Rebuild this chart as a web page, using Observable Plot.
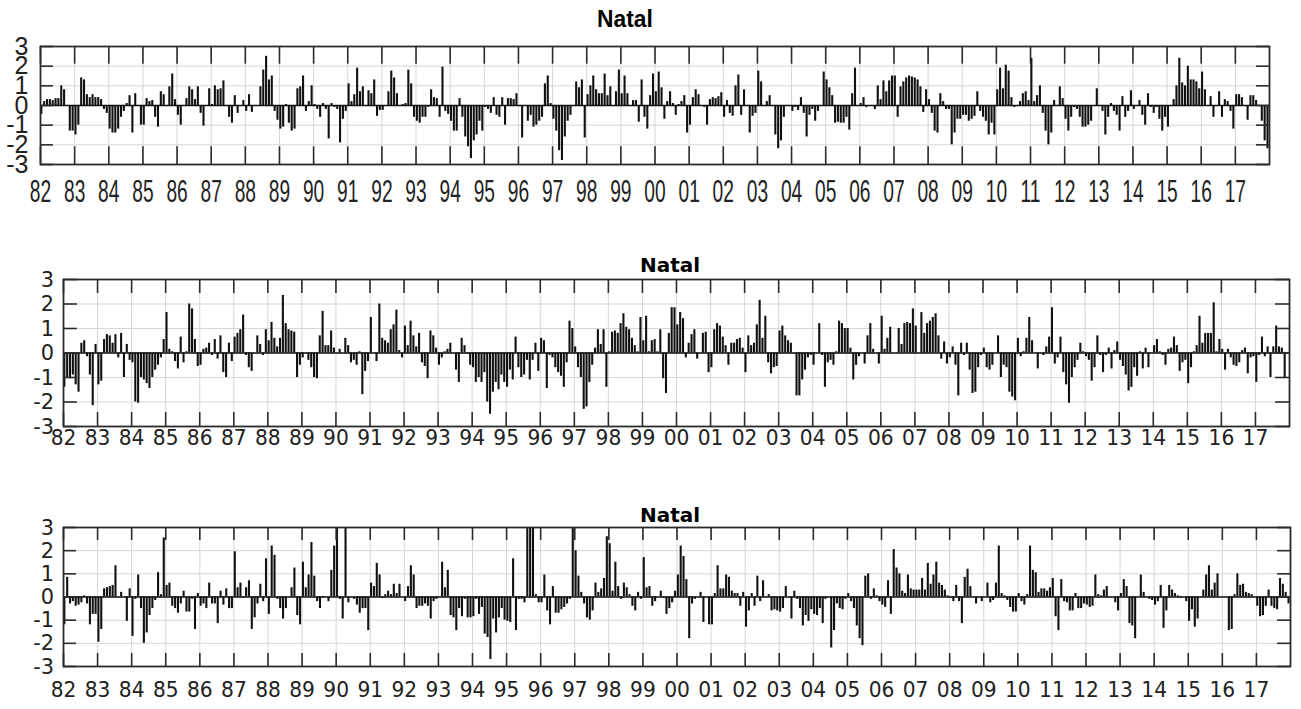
<!DOCTYPE html>
<html><head><meta charset="utf-8">
<script src="https://cdn.jsdelivr.net/npm/d3@7"></script>
<script src="https://cdn.jsdelivr.net/npm/@observablehq/plot@0.6"></script>
<style>
body{margin:0;background:#fff;}
#wrap{position:relative;width:1301px;height:709px;overflow:hidden;background:#fff;}
.panel{position:absolute;left:0;}
.title{position:absolute;font-weight:bold;color:#000;white-space:nowrap;transform:translateX(-50%);line-height:1;}
</style></head><body><div id="wrap"></div>
<script>
const years = d3.range(1982, 2018);
const yearLabels = years.map(y => String(y % 100).padStart(2, "0"));
const yTicks = [-3, -2, -1, 0, 1, 2, 3];
const titles = ["Natal", "Natal", "Natal"];

const natal1 = [
-0.45,0.2,0.3,0.3,0.25,0.35,0.35,1.0,0.8,0.0,-1.3,-1.3,
-1.5,-1.0,1.4,1.3,0.55,0.4,0.55,0.4,0.4,0.3,-0.2,-0.4,
-1.2,-1.4,-1.4,-1.2,-0.6,-0.3,0.1,0.5,-1.4,0.6,0.0,-1.0,
-1.0,0.35,0.2,0.25,-0.6,-1.1,0.7,0.55,0.0,0.95,1.6,0.3,
-0.5,-1.0,0.0,0.35,0.95,0.8,0.3,0.95,-0.4,-1.05,0.0,0.85,
0.05,1.0,0.8,0.85,1.25,0.0,-0.6,-0.9,0.5,-0.4,0.0,0.25,
-0.3,0.55,-0.35,0.0,0.0,0.95,1.8,2.5,1.3,1.5,-0.3,-0.75,
-1.2,-1.1,0.05,-0.9,-1.3,-1.2,0.85,0.95,1.5,-0.3,0.2,1.0,
0.05,-0.2,-0.6,0.1,-0.2,-1.7,0.1,-0.1,-0.2,-1.9,-0.7,-0.3,
1.1,0.2,0.55,1.9,0.7,0.95,0.0,0.75,0.6,1.3,-0.55,-0.25,
-0.25,0.0,0.7,1.75,1.4,0.6,0.0,0.05,0.1,1.8,1.1,-0.6,
-0.8,-0.9,-0.6,-0.6,-0.1,0.8,0.4,0.35,-0.6,1.95,-0.3,-0.45,
-0.8,-1.3,-1.3,0.35,-0.6,-1.6,-2.1,-2.7,-1.8,-1.5,-0.8,-1.3,
-0.1,-0.2,-0.4,0.4,-0.5,-0.6,0.4,-1.0,0.35,0.35,0.3,0.6,
0.0,-1.65,0.0,-0.8,-0.5,-1.1,-1.0,-0.8,-0.6,1.1,1.5,0.1,
-0.7,-1.3,-2.3,-2.8,-1.6,-0.8,-0.5,0.0,1.2,0.9,1.3,-1.65,
0.55,1.0,1.5,0.8,0.6,0.6,1.6,0.5,0.95,0.0,0.7,1.8,
0.6,1.5,0.6,0.0,0.25,0.25,-0.85,1.3,-0.6,-1.2,0.5,1.6,
0.7,1.7,0.9,-0.7,0.2,0.7,0.1,-0.5,0.05,0.2,0.5,-1.4,
-1.0,0.4,0.8,0.55,0.0,-0.1,-1.0,0.3,0.4,0.35,0.45,0.65,
-0.6,0.25,-0.4,-0.55,1.0,1.55,-0.5,0.8,0.0,-1.4,-0.55,-0.4,
1.75,1.2,0.0,0.2,0.5,0.0,-1.5,-2.2,-1.8,-0.6,0.0,0.0,
-0.3,-0.1,-0.25,0.4,-0.4,-1.6,-0.5,-0.2,-0.8,-0.3,0.0,1.7,
1.3,0.9,0.5,-0.9,-0.85,-0.9,-0.9,-0.6,-1.25,0.6,1.9,0.0,
0.1,0.4,-0.1,-0.05,0.0,-0.2,1.0,0.3,1.25,0.7,1.25,1.5,
1.5,-0.6,0.95,1.2,1.4,1.5,1.45,1.4,1.3,0.95,-0.35,0.8,
0.3,-0.4,-1.3,-1.4,0.6,0.2,-0.2,-0.2,-2.0,-1.4,-0.7,-0.7,
-0.5,-0.5,-0.8,-0.7,-0.55,0.7,-0.3,-0.6,-0.8,-1.5,-0.9,-1.5,
0.8,1.9,0.85,2.05,1.75,0.4,-0.1,-0.05,0.2,0.6,0.7,0.25,
2.4,0.2,0.5,1.0,-0.4,-1.3,-2.0,-1.4,0.25,0.0,0.95,0.35,
-0.7,-1.3,-0.6,-0.1,-0.2,-0.6,-1.1,-1.1,-1.0,-0.8,0.0,0.85,
0.0,-0.3,-1.5,-0.6,0.1,-0.3,-0.5,-1.3,0.45,-0.6,-0.3,0.75,
-0.2,0.0,0.25,-0.5,-1.0,0.6,-0.1,-0.4,-0.1,-0.7,-1.3,-0.6,
-1.1,0.0,0.3,1.0,2.4,1.15,1.0,2.0,1.3,1.3,1.2,0.85,
1.7,0.8,0.0,0.45,-0.6,0.0,0.7,-0.6,0.3,0.2,-0.3,-1.2,
0.55,0.55,0.4,0.0,-0.75,0.5,0.5,0.25,0.0,-0.8,-1.8,-2.2
];

const natal2 = [
-1.4,-1.0,-1.05,-0.9,-1.3,-1.6,0.4,0.5,-0.15,-0.9,-2.15,0.35,
-1.3,-1.15,0.55,0.75,0.7,0.4,0.75,-0.2,0.8,-1.0,0.35,-0.3,
-0.4,-2.0,-2.05,-1.0,-1.1,-1.25,-1.45,-1.0,-0.7,-0.5,-0.2,0.55,
1.65,0.15,0.05,-0.35,-0.65,0.65,-0.4,0.05,2.0,1.8,0.55,-0.55,
-0.5,0.15,0.2,0.4,-0.1,0.55,-0.25,0.7,-0.8,-1.0,0.4,-0.35,
0.65,0.8,0.95,1.55,-0.1,-0.6,-0.75,0.0,0.7,0.35,-0.1,0.95,
0.5,1.25,0.6,0.25,0.6,2.35,1.2,0.95,0.9,0.85,-1.0,-0.5,
-0.2,0.0,-0.3,-0.6,-1.0,-1.05,0.7,1.7,0.3,0.3,0.9,0.2,
0.0,0.15,0.0,0.6,0.3,-0.4,-0.3,-0.5,0.05,-1.7,-0.75,-0.35,
1.45,0.0,-0.35,2.0,0.6,0.5,0.4,0.95,1.15,1.75,0.1,-0.2,
1.1,0.3,1.3,0.7,0.25,0.8,-0.4,-0.55,-1.05,0.9,0.7,0.2,
-0.5,-0.2,0.05,0.15,0.4,0.0,-0.7,-1.2,0.6,0.3,-0.05,-0.5,
-0.6,-1.2,-1.0,-1.2,-0.8,-2.0,-2.5,-1.6,-1.2,-1.5,-0.9,-1.2,
-1.4,-0.7,-1.1,0.65,-0.6,-1.0,-0.9,-0.3,-1.1,-0.3,0.4,-0.75,
0.6,0.5,-1.45,-0.1,-0.2,-0.6,-0.8,-0.95,-1.4,-0.4,1.3,1.0,
0.25,-0.6,-1.0,-2.3,-2.2,-1.2,-0.5,0.2,0.95,0.35,0.95,-1.4,
0.05,0.85,0.9,0.8,1.2,1.6,1.05,0.95,0.6,0.3,0.05,1.45,
0.5,1.5,0.05,0.5,0.55,0.05,0.95,-1.05,-1.65,0.8,1.85,1.85,
1.15,1.65,1.4,-0.2,0.4,0.75,0.95,-0.25,0.0,0.8,0.85,-0.8,
-0.6,0.95,1.2,1.1,0.65,0.3,-0.5,0.4,0.4,0.55,0.6,0.2,
-0.8,0.7,0.3,0.4,1.15,2.15,0.6,1.5,-0.4,-0.85,-0.6,-0.55,
0.9,1.1,0.7,0.5,0.4,0.0,-1.75,-1.75,-1.1,-0.7,-0.2,-0.1,
-0.5,0.0,1.2,-0.1,-1.4,-0.4,-0.3,-0.5,0.05,1.3,1.2,1.0,
1.0,0.2,-1.1,-0.5,-0.15,0.0,-0.45,0.7,1.2,0.15,0.0,-0.45,
1.5,0.15,0.6,1.05,0.0,0.0,1.0,0.35,1.2,1.25,1.2,1.8,
1.1,0.0,1.65,0.8,1.2,1.3,1.45,1.6,0.7,-0.25,0.45,-0.45,
-0.2,0.25,-0.5,-1.75,0.4,-0.1,0.4,-0.7,-1.65,-1.6,-0.6,-0.1,
0.2,-0.6,-0.7,-0.5,0.0,0.7,-1.0,-0.5,-0.6,-1.6,-1.8,-1.95,
0.6,-0.15,0.05,0.6,1.45,0.5,0.0,-0.65,0.0,-0.1,0.25,0.65,
1.85,-0.45,-0.2,0.65,-0.8,-1.3,-2.05,-1.0,-0.6,-0.3,0.4,0.05,
-0.15,-0.3,-1.15,-0.6,0.7,-0.1,-0.8,-0.1,0.2,-0.65,0.1,0.45,
-0.3,-0.55,-0.9,-1.55,-1.4,-0.6,-0.95,0.05,-0.65,0.2,-0.6,0.0,
0.3,0.55,0.05,-0.1,-0.5,0.15,0.2,0.65,0.3,-0.75,-0.4,-0.3,
-1.25,-0.6,0.05,0.3,1.5,0.4,0.8,0.8,0.8,2.05,0.05,0.55,
0.15,-0.7,0.15,-0.2,-0.5,-0.55,-0.4,0.1,0.2,-0.85,-0.2,-0.15,
-1.2,-0.1,0.65,-0.15,0.25,-1.0,0.25,1.1,0.25,0.2,-1.0,0.0
];

const natal3 = [
-1.2,0.85,-0.3,-0.2,-0.4,-0.35,-0.25,0.05,-0.3,-1.2,-0.75,-0.75,
-1.95,-1.4,0.35,0.4,0.45,0.5,1.35,0.0,0.2,0.0,-1.05,0.35,
-1.7,-0.1,0.95,-0.5,-2.0,-1.55,-0.8,-0.5,-0.15,1.05,0.1,2.55,
0.5,0.6,-0.4,-0.5,-0.7,-0.3,0.25,-0.65,-0.65,-0.1,-1.4,0.15,
-0.4,-0.3,-0.5,0.6,-0.3,-0.3,-1.15,0.25,-0.35,0.35,-0.5,-0.5,
1.95,0.4,0.6,-0.05,0.4,0.7,-1.4,-0.9,-0.3,0.55,-0.2,1.65,
-0.75,2.2,1.8,-0.1,-0.5,-0.95,-0.5,0.0,0.4,1.25,-0.8,-1.2,
1.5,0.4,0.95,2.35,0.9,-0.2,-0.5,-0.05,0.0,-0.2,1.15,2.2,
3.2,-0.1,-0.95,3.2,-0.25,0.0,-0.1,-0.35,-0.7,-0.5,-0.5,-1.45,
0.6,0.45,1.45,0.95,-0.05,0.1,0.25,0.1,0.55,0.15,0.55,0.0,
-0.2,0.45,1.35,0.95,-0.5,-0.4,-0.4,-0.3,-0.4,-0.95,-0.2,-0.1,
0.0,1.5,0.4,1.15,-0.8,-0.9,-1.45,-0.5,-0.85,-0.1,-0.9,-0.9,
-0.85,-0.1,-0.75,-0.45,-1.6,-1.75,-2.7,-0.95,-1.55,-0.9,-0.5,-1.0,
-1.05,-1.1,1.65,-1.45,-0.1,-0.1,-0.25,3.2,3.2,3.2,0.1,-0.25,
-0.25,0.95,-0.6,-1.2,0.45,-0.7,-0.7,-0.55,-0.45,-0.3,-0.1,3.2,
2.0,0.9,0.2,-0.3,-0.9,-1.0,-0.6,0.6,0.2,0.35,0.8,2.6,
2.3,0.25,1.5,0.45,-0.1,0.6,0.4,0.1,-0.4,-0.6,0.2,-0.1,
1.7,0.4,0.45,-0.4,-0.2,0.0,0.25,-0.05,-0.75,-0.5,-0.25,0.25,
0.95,2.2,1.75,0.75,-1.8,-0.3,-0.1,0.0,0.2,-1.1,0.0,-1.2,
-1.2,0.15,1.35,0.35,0.35,0.95,0.85,0.25,0.15,0.15,-0.4,0.2,
-1.3,-0.6,0.15,-0.4,0.9,-0.2,0.7,0.0,0.1,-0.6,-0.55,-0.6,
-0.65,-0.5,0.45,0.0,-0.95,0.25,-0.1,-0.5,-1.25,-0.8,-1.05,-0.55,
-0.75,-0.8,-0.5,-1.15,-0.1,0.0,-2.2,-1.45,-0.3,-0.5,-0.55,-0.1,
0.15,-0.2,-0.5,-1.25,-1.8,-2.1,0.9,1.0,-0.1,0.35,0.05,-0.2,
-0.35,-0.45,0.7,-0.75,2.05,1.25,1.0,0.25,0.15,0.95,0.35,0.3,
0.3,0.3,0.8,0.3,1.45,0.55,0.95,1.5,0.6,0.5,0.3,0.05,
-0.05,-0.2,0.5,-0.2,-1.15,0.85,1.2,0.45,0.0,-0.3,0.0,-0.2,
0.0,0.6,-0.25,-0.15,0.6,2.2,0.15,0.05,-0.15,-0.45,-0.65,-0.65,
0.15,-0.2,-0.35,0.1,2.2,1.15,1.05,0.2,0.35,0.35,0.25,0.4,
0.8,-0.85,-1.45,0.75,-0.2,-0.25,-0.6,-0.6,0.15,-0.5,-0.5,-0.3,
-0.35,-0.45,-0.4,0.95,0.1,0.05,0.3,0.45,0.0,0.0,-0.25,-0.6,
0.15,0.75,0.45,-1.15,-1.25,-1.8,0.0,0.95,0.2,0.0,-0.1,-0.15,
-0.35,-0.2,0.5,-1.35,-0.6,0.5,0.3,0.15,0.05,-0.05,0.0,-0.2,
-1.05,-0.55,-1.3,-0.95,0.0,0.3,0.95,1.35,0.3,0.6,1.0,0.0,
0.0,0.0,-1.45,-1.4,0.1,1.0,0.5,0.55,0.2,0.15,0.1,0.0,
-0.4,-0.85,-0.8,-0.4,0.3,-0.4,-0.5,-0.55,0.8,0.55,0.2,-0.3
];

const panels = [
  {values: natal1, top: 36, height: 174, ml: 40, mr: 32, mt: 10, mb: 46,
   font: "'Liberation Sans', Arial, sans-serif", fs: 32, yfs: 25, xsx: 0.6, ysx: 1, xpad: 15, ypad: 12,
   xtl: 0.9, ytl: 0.38, titleX: 625, titleY: 7, titleFs: 24, titleSx: 0.95},
  {values: natal2, top: 270, height: 190, ml: 63, mr: 12, mt: 9, mb: 34,
   font: "'DejaVu Sans', sans-serif", fs: 22, yfs: 22, xsx: 0.92, ysx: 0.95, xpad: 3, ypad: 9,
   xtl: 0.57, ytl: 0.41, titleX: 670, titleY: 255, titleFs: 20, titleSx: 1},
  {values: natal3, top: 518, height: 191, ml: 63, mr: 11, mt: 9, mb: 43,
   font: "'DejaVu Sans', sans-serif", fs: 22, yfs: 22, xsx: 0.92, ysx: 0.95, xpad: 15, ypad: 9,
   xtl: 0.56, ytl: 0.38, titleX: 670, titleY: 505, titleFs: 20, titleSx: 1}
];

const wrap = document.getElementById("wrap");

function squeeze(svg, selector, sx, fs) {
  svg.querySelectorAll(selector).forEach(t => {
    if (fs) t.style.fontSize = fs + "px";
    const b = t.getBBox();
    const cx = b.x + b.width / 2, cy = b.y + b.height / 2;
    const prev = t.getAttribute("transform") || "";
    t.setAttribute("transform", `${prev} translate(${cx},${cy}) scale(${sx},1) translate(${-cx},${-cy})`);
  });
}

panels.forEach((cfg, k) => {
  const data = cfg.values.map((v, i) => ({t: 1982 + i / 12, v}));
  const tickStroke = "#2b2b2b";
  const chart = Plot.plot({
    width: 1301,
    height: cfg.height,
    marginLeft: cfg.ml, marginRight: cfg.mr, marginTop: cfg.mt, marginBottom: cfg.mb,
    x: {domain: [1982, 2018]},
    y: {domain: [-3, 3]},
    style: {fontFamily: cfg.font, fontSize: cfg.fs + "px", color: "#222", background: "transparent", overflow: "visible"},
    marks: [
      Plot.gridX(years, {stroke: "#d6d6d6", strokeOpacity: 1, strokeWidth: 1}),
      Plot.gridY(yTicks, {stroke: "#d6d6d6", strokeOpacity: 1, strokeWidth: 1}),
      Plot.rectY(data, {x1: "t", x2: d => d.t + 1 / 12, y1: 0, y2: "v", fill: "#111", insetLeft: 0.3, insetRight: 0.45, clip: true}),
      Plot.ruleY([0], {stroke: "#111", strokeWidth: 1.3}),
      Plot.ruleX(years, {y1: -3, y2: -3 + cfg.xtl, stroke: tickStroke, strokeWidth: 1.6}),
      Plot.ruleX(years, {y1: 3 - cfg.xtl, y2: 3, stroke: tickStroke, strokeWidth: 1.6}),
      Plot.ruleY(yTicks, {x1: 1982, x2: 1982 + cfg.ytl, stroke: tickStroke, strokeWidth: 1.6}),
      Plot.ruleY(yTicks, {x1: 2018 - cfg.ytl, x2: 2018, stroke: tickStroke, strokeWidth: 1.6}),
      Plot.frame({stroke: "#2b2b2b", strokeWidth: 1.8}),
      Plot.axisX(years, {tickSize: 0, tickPadding: cfg.xpad, tickFormat: d => yearLabels[years.indexOf(d)], label: null, fill: "#222"}),
      Plot.axisY(yTicks, {tickSize: 0, tickPadding: cfg.ypad, tickFormat: d => String(d), label: null, fill: "#222"})
    ]
  });
  chart.classList.add("panel");
  chart.style.top = cfg.top + "px";
  wrap.appendChild(chart);
  squeeze(chart, 'g[aria-label="x-axis tick label"] text', cfg.xsx, null);
  squeeze(chart, 'g[aria-label="y-axis tick label"] text', cfg.ysx, cfg.yfs);

  const t = document.createElement("div");
  t.className = "title";
  t.textContent = titles[k];
  t.style.left = cfg.titleX + "px";
  t.style.top = cfg.titleY + "px";
  t.style.fontFamily = cfg.font;
  t.style.fontSize = cfg.titleFs + "px";
  t.style.transform = `translateX(-50%) scaleX(${cfg.titleSx})`;
  wrap.appendChild(t);
});
</script>
</body></html>
